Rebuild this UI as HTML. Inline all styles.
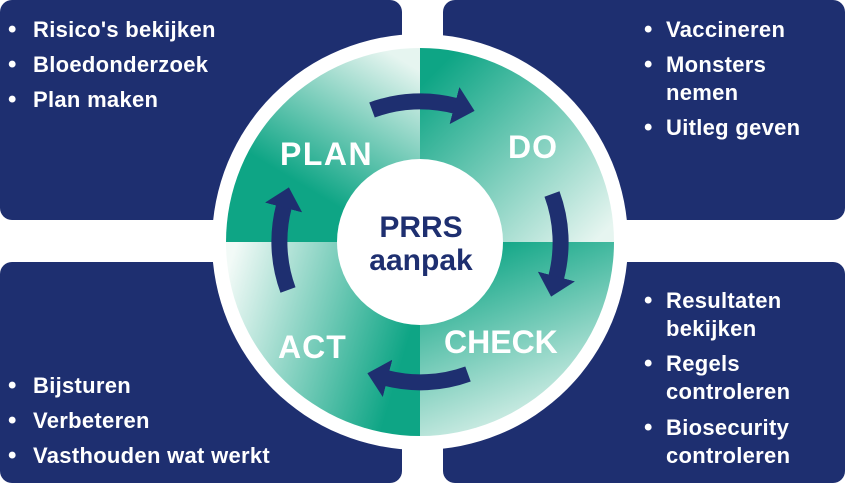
<!DOCTYPE html>
<html><head><meta charset="utf-8"><style>
body{margin:0;width:845px;height:483px;background:#fff;position:relative;overflow:hidden;font-family:"Liberation Sans",sans-serif;}
.box{position:absolute;background:#1e2f70;border-radius:12px;}
.t{position:absolute;color:#fff;font-weight:bold;font-size:22px;line-height:22px;letter-spacing:0.3px;white-space:nowrap;}
.b{position:absolute;color:#fff;font-weight:bold;font-size:24px;line-height:22px;}
svg{position:absolute;left:0;top:0;}
</style></head><body>
<div class="box" style="left:0;top:0;width:402px;height:220px"></div>
<div class="box" style="left:443px;top:0;width:402px;height:220px"></div>
<div class="box" style="left:0;top:262px;width:402px;height:221px"></div>
<div class="box" style="left:443px;top:262px;width:402px;height:221px"></div>

<svg width="845" height="483" viewBox="0 0 845 483">
<defs>
<linearGradient id="gPlan" x1="0.2" y1="1" x2="0.8" y2="0"><stop offset="0.3" stop-color="#0ea585"/><stop offset="1" stop-color="#e6f5f0"/></linearGradient>
<linearGradient id="gDo" x1="0" y1="0" x2="1" y2="1"><stop offset="0.1" stop-color="#0ea585"/><stop offset="0.95" stop-color="#e6f5f0"/></linearGradient>
<linearGradient id="gCheck" x1="0.2" y1="0" x2="0.6" y2="1"><stop offset="0.05" stop-color="#0ea585"/><stop offset="1" stop-color="#e6f5f0"/></linearGradient>
<linearGradient id="gAct" x1="1" y1="0.3" x2="0" y2="0"><stop offset="0" stop-color="#0ea585"/><stop offset="0.95" stop-color="#f2faf7"/></linearGradient>
<marker id="ah" markerWidth="2.2" markerHeight="2.4" refX="0.1" refY="1.2" orient="auto" markerUnits="strokeWidth"><path d="M0,0 L1.3,1.2 L0,2.4 Z" fill="#1e2f70"/></marker>
</defs>
<circle cx="420" cy="242" r="208" fill="#fff"/>
<path d="M420,242 L226,242 A194,194 0 0 1 420,48 Z" fill="url(#gPlan)"/>
<path d="M420,242 L420,48 A194,194 0 0 1 614,242 Z" fill="url(#gDo)"/>
<path d="M420,242 L614,242 A194,194 0 0 1 420,436 Z" fill="url(#gCheck)"/>
<path d="M420,242 L420,436 A194,194 0 0 1 226,242 Z" fill="url(#gAct)"/>
<circle cx="420" cy="242" r="83" fill="#fff"/>
<g fill="none" stroke="#1e2f70" stroke-width="16" marker-end="url(#ah)">
<path d="M372,110 A140,140 0 0 1 456,106"/>
<path d="M552,194 A140,140 0 0 1 556,278"/>
<path d="M468,374 A140,140 0 0 1 386,378"/>
<path d="M288,290 A140,140 0 0 1 284,206"/>
</g>
<g font-family="Liberation Sans, sans-serif" font-weight="bold" fill="#fff" font-size="32">
<text x="280" y="165" letter-spacing="1.5">PLAN</text>
<text x="508" y="158" letter-spacing="1">DO</text>
<text x="444" y="353">CHECK</text>
<text x="278" y="358" letter-spacing="1">ACT</text>
</g>
<g font-family="Liberation Sans, sans-serif" font-weight="bold" fill="#1e2f70" font-size="30" text-anchor="middle">
<text x="421" y="237">PRRS</text>
<text x="421" y="270">aanpak</text>
</g>
</svg>

<div class="b" style="left:8px;top:19px">•</div><div class="t" style="left:33px;top:19px">Risico's bekijken</div>
<div class="b" style="left:8px;top:54px">•</div><div class="t" style="left:33px;top:54px">Bloedonderzoek</div>
<div class="b" style="left:8px;top:89px">•</div><div class="t" style="left:33px;top:89px">Plan maken</div>

<div class="b" style="left:644px;top:19px">•</div><div class="t" style="left:666px;top:19px">Vaccineren</div>
<div class="b" style="left:644px;top:54px">•</div><div class="t" style="left:666px;top:54px">Monsters</div>
<div class="t" style="left:666px;top:82px">nemen</div>
<div class="b" style="left:644px;top:117px">•</div><div class="t" style="left:666px;top:117px">Uitleg geven</div>

<div class="b" style="left:644px;top:290px">•</div><div class="t" style="left:666px;top:290px">Resultaten</div>
<div class="t" style="left:666px;top:318px">bekijken</div>
<div class="b" style="left:644px;top:353px">•</div><div class="t" style="left:666px;top:353px">Regels</div>
<div class="t" style="left:666px;top:381px">controleren</div>
<div class="b" style="left:644px;top:417px">•</div><div class="t" style="left:666px;top:417px">Biosecurity</div>
<div class="t" style="left:666px;top:445px">controleren</div>

<div class="b" style="left:8px;top:375px">•</div><div class="t" style="left:33px;top:375px">Bijsturen</div>
<div class="b" style="left:8px;top:410px">•</div><div class="t" style="left:33px;top:410px">Verbeteren</div>
<div class="b" style="left:8px;top:445px">•</div><div class="t" style="left:33px;top:445px">Vasthouden wat werkt</div>
</body></html>
